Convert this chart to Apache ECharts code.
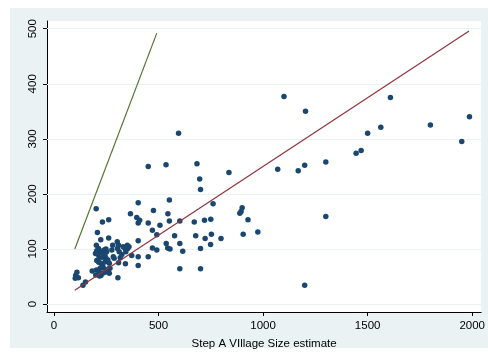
<!DOCTYPE html>
<html>
<head>
<meta charset="utf-8">
<script src="https://cdn.jsdelivr.net/npm/echarts@6/dist/echarts.min.js"></script>
<style>
html,body{margin:0;padding:0;background:#fff;}
#c{width:488px;height:355px;}
</style>
</head>
<body>
<div id="c"></div>
<script>
// Step A village size estimate (x) vs second estimate (y)
const villagePoints = [
  [102,47],[104,52],[110,58],[117,48],[139,34],[151,40],[183,60],
  [199,92],[200,53],[202,173],[203,107],[203,62],[205,97],[205,79],[208,130],[211,90],[213,101],
  [214,76],[214,60],[216,83],[218,51],[221,65],[224,93],[224,117],[225,74],[225,52],[230,96],
  [232,149],[233,85],[233,71],[233,56],[236,66],[240,98],[244,89],[244,58],[246,77],[249,100],
  [249,83],[252,95],[255,61],[258,80],[262,153],[262,120],[262,64],[265,74],[265,56],[268,65],
  [277,98],[281,107],[284,86],[288,83],[303,113],[304,101],[306,48],[309,107],[309,75],[312,95],
  [317,84],[325,90],[331,104],[340,101],[342,73],[344,95],[351,107],[353,101],[359,104],[366,164],
  [372,88],
  [396,157],[403,184],[403,147],[410,152],[403,115],[403,86],[403,70],[451,250],[451,147],[451,86],
  [471,134],[471,102],[476,170],[492,126],[492,98],[507,143],[536,253],[537,110],[544,102],[545,164],
  [552,189],[552,151],[555,100],[577,124],[596,310],[602,151],[602,110],[602,64],[616,96],[671,149],
  [678,124],[684,255],[697,227],[701,208],[701,101],[701,64],[720,152],[723,119],[749,108],[750,154],
  [753,127],[761,182],[799,119],[837,239],[889,165],[895,168],[900,175],[905,127],[928,153],[975,131],
  [1070,245],[1100,377],[1168,242],[1199,252],[1199,34],[1203,350],[1300,258],[1300,159],[1445,274],
  [1469,279],[1500,310],[1563,321],[1609,375],[1800,325],[1950,295],[1987,340]
];
const fitLine = [[100,25],[1985,496]];      // maroon line
const equalLine = [[100,100],[492,492]];    // green line
const xTicks = [0,500,1000,1500,2000];
const yTicks = [0,100,200,300,400,500];
const xName = 'Step A VIllage Size estimate';

const font = "'Liberation Sans', Arial, Helvetica, sans-serif";
const chart = echarts.init(document.getElementById('c'), null, {renderer:'canvas'});
chart.setOption({
  animation:false,
  backgroundColor:'#ffffff',
  graphic:[{type:'rect', z:-10, shape:{x:10,y:8,width:478,height:340}, style:{fill:'#eaf2f3'}}],
  grid:{left:47,right:4,top:21,bottom:41,show:true,backgroundColor:'#ffffff',borderWidth:0},
  xAxis:{
    type:'value', min:-33, max:2043,
    name:xName, nameLocation:'middle', nameGap:26,
    nameTextStyle:{fontFamily:font,fontSize:11.5,color:'#000'},
    axisLine:{show:true,onZero:false,lineStyle:{color:'#000',width:1}},
    axisTick:{show:true,length:4,customValues:xTicks,lineStyle:{color:'#000'}},
    axisLabel:{customValues:xTicks,margin:8,fontFamily:font,fontSize:11.5,color:'#000',
      formatter:v=>String(v)},
    splitLine:{show:false}
  },
  yAxis:{
    type:'value', min:-14.4, max:514,
    axisLine:{show:true,onZero:false,lineStyle:{color:'#000',width:1}},
    axisTick:{show:true,length:4,customValues:yTicks,lineStyle:{color:'#000'}},
    axisLabel:{customValues:yTicks,rotate:90,margin:8,fontFamily:font,fontSize:11.5,color:'#000',
      formatter:v=>String(v)},
    splitLine:{show:false}
  },
  series:[
    {
      type:'line', data:[], silent:true, z:1,
      markLine:{silent:true,symbol:'none',z:1,label:{show:false},animation:false,
        lineStyle:{color:'#eaf2f3',width:1.2,type:'solid'},
        data:yTicks.map(v=>({yAxis:v}))}
    },
    {
      type:'scatter', data:villagePoints, symbol:'circle', symbolSize:5.5,
      itemStyle:{color:'#1a476f',opacity:1}, z:6
    },
    {
      type:'line', data:fitLine, showSymbol:false, symbol:'none',
      lineStyle:{color:'#90353b',width:1.2}, z:7
    },
    {
      type:'line', data:equalLine, showSymbol:false, symbol:'none',
      lineStyle:{color:'#55752f',width:1.2}, z:7
    }
  ]
});
</script>
</body>
</html>
